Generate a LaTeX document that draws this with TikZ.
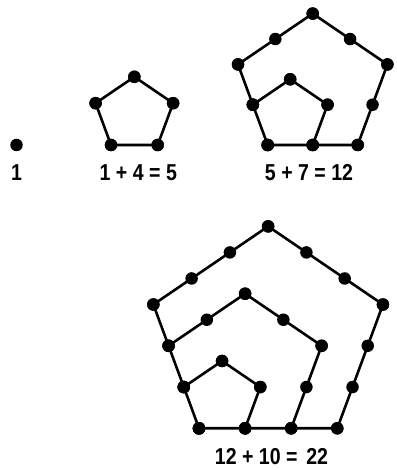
\documentclass[tikz,border=0pt]{standalone}
\usepackage{graphicx}
\usepackage{fontspec}
\setmainfont{Liberation Sans}
\usetikzlibrary{calc}
\tikzset{
  dot/.style={circle,fill=black,inner sep=0pt,minimum size=12.5pt},
  edge/.style={line width=2.6pt,line join=round},
  lab/.style={inner sep=0pt,font=\fontsize{23}{25}\selectfont\bfseries}
}
% #1 id, #2 x0, #3 y0, #4 step, #5 k (side count), #6 1=outer 0=inner
\newcommand{\PentLayer}[6]{%
  \pgfmathsetmacro{\PLen}{#4*#5}%
  \coordinate (#1-0) at (#2,#3);
  \coordinate (#1-1) at ({#2+\PLen},#3);
  \coordinate (#1-2) at ({#2+1.33*\PLen},{#3+0.895*\PLen});
  \coordinate (#1-3) at ({#2+0.5*\PLen},{#3+1.46*\PLen});
  \coordinate (#1-4) at ({#2-0.33*\PLen},{#3+0.895*\PLen});
  \ifnum#6=1
    \draw[edge] (#1-0)--(#1-1)--(#1-2)--(#1-3)--(#1-4)--cycle;
  \else
    \draw[edge] (#1-4)--(#1-3)--(#1-2)--(#1-1);
  \fi
}
\newcommand{\PentDots}[2]{% #1 id, #2 k
  \foreach \j/\jj in {0/1,1/2,2/3,3/4,4/0}{%
    \foreach \i in {0,...,#2}{%
      \pgfmathsetmacro{\PF}{\i/#2}%
      \node[dot] (#1-\j-\i) at ($(#1-\j)!\PF!(#1-\jj)$) {};
    }%
  }%
}
\begin{document}
\begin{tikzpicture}[x=1pt,y=1pt]
\useasboundingbox (0,0) rectangle (396,470);
% single dot
\node[dot] (one) at (16.5,325) {};
% figure 5
\PentLayer{a}{111}{325}{46.7}{1}{1}
\PentDots{a}{1}
% figure 12
\PentLayer{b2}{267.7}{325}{45}{2}{1}
\PentLayer{b1}{267.7}{325}{45}{1}{0}
\PentDots{b2}{2}
\PentDots{b1}{1}
% figure 22
\PentLayer{c3}{199}{41.7}{46.1}{3}{1}
\PentLayer{c2}{199}{41.7}{46.1}{2}{0}
\PentLayer{c1}{199}{41.7}{46.1}{1}{0}
\PentDots{c3}{3}
\PentDots{c2}{2}
\PentDots{c1}{1}
% labels
\node[lab] (l1) at (16.5,297.5) {\scalebox{0.85}[1]{1}};
\node[lab] (l5) at (138.3,297.5) {\scalebox{0.85}[1]{1 + 4 = 5}};
\node[lab] (l12) at (309,297) {\scalebox{0.85}[1]{5 + 7 = 12}};
\node[lab] (l22) at (271.5,13.5) {\scalebox{0.85}[1]{12 + 10 =\, 22}};
\end{tikzpicture}
\end{document}
